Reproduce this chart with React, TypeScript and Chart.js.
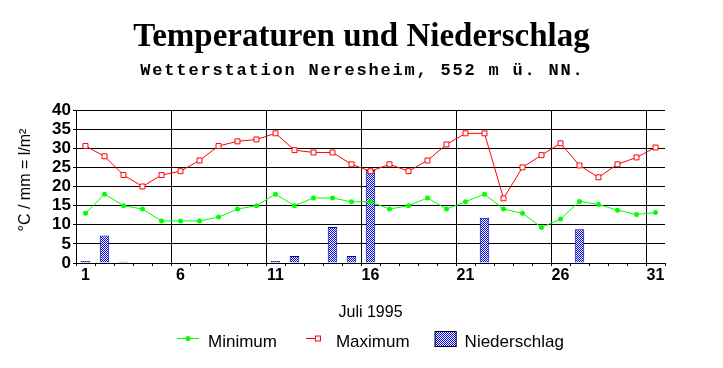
import React, { useEffect, useRef } from "react";
import { Chart, registerables } from "chart.js";

Chart.register(...registerables);

const days = Array.from({ length: 31 }, (_, i) => String(i + 1));
const minimum = [13, 18, 15, 14.1, 11, 11, 11, 12, 14.1, 15, 18, 15, 17, 17, 16, 16, 14.1, 15, 17, 14.1, 16, 18, 14.1, 13, 9.3, 11.5, 16.1, 15.3, 13.8, 12.7, 13.2];
const maximum = [30.6, 27.9, 23, 20, 23, 24, 26.8, 30.6, 31.8, 32.3, 33.9, 29.5, 28.9, 28.9, 25.8, 24, 25.8, 24, 26.8, 31, 33.9, 33.9, 16.9, 25, 28.2, 31.3, 25.5, 22.4, 25.8, 27.6, 30.2];
const niederschlag = [0.5, 7.2, 0.3, 0, 0, 0, 0, 0, 0, 0, 0.5, 1.8, 0, 9.4, 1.8, 24.3, 0, 0, 0, 0, 0, 11.8, 0, 0, 0, 0, 8.8, 0, 0, 0, 0];
const yTicks = [0, 5, 10, 15, 20, 25, 30, 35, 40];

const TITLE = "Temperaturen und Niederschlag";
const SUBTITLE = "Wetterstation Neresheim, 552 m ü. NN.";
const Y_TITLE = "°C / mm = l/m²";
const X_TITLE = "Juli 1995";
const LEGEND = ["Minimum", "Maximum", "Niederschlag"];

const GREEN = "#00ff00";
const RED = "#ff0000";
const SANS = "'Liberation Sans', Arial, sans-serif";

function makePattern(): CanvasPattern | string {
  const c = document.createElement("canvas");
  c.width = 2;
  c.height = 2;
  const g = c.getContext("2d");
  if (!g) return "#8080ff";
  g.fillStyle = "#ffffff";
  g.fillRect(0, 0, 2, 2);
  g.fillStyle = "#0000ff";
  g.fillRect(0, 0, 1, 1);
  g.fillRect(1, 1, 1, 1);
  const p = g.createPattern(c, "repeat");
  return p || "#8080ff";
}

export default function App() {
  const ref = useRef<HTMLCanvasElement | null>(null);

  useEffect(() => {
    const canvas = ref.current;
    if (!canvas) return;
    const pattern = makePattern();

    const textPlugin = {
      id: "texts",
      afterDraw(chart: any) {
        const ctx = chart.ctx as CanvasRenderingContext2D;
        const area = chart.chartArea;
        const cx = chart.width / 2;
        const pc = (area.left + area.right) / 2;
        ctx.save();
        ctx.fillStyle = "#000";
        // title
        ctx.font = "bold 33px 'Liberation Serif', 'Times New Roman', serif";
        ctx.textAlign = "center";
        ctx.textBaseline = "alphabetic";
        ctx.fillText(TITLE, cx, 46);
        // subtitle
        ctx.font = "bold 17px 'Liberation Mono', 'Courier New', monospace";
        (ctx as any).letterSpacing = "1.8px";
        ctx.textAlign = "left";
        const sw = ctx.measureText(SUBTITLE).width - 1.8;
        ctx.fillText(SUBTITLE, cx - sw / 2, 75);
        (ctx as any).letterSpacing = "0px";
        // x title
        ctx.font = `16px ${SANS}`;
        ctx.textAlign = "center";
        ctx.fillText(X_TITLE, pc, 317);
        // y title
        ctx.save();
        ctx.translate(25.5, 180);
        ctx.rotate(-Math.PI / 2);
        ctx.textBaseline = "middle";
        ctx.fillText(Y_TITLE, 0, 0);
        ctx.restore();
        // legend
        ctx.font = `17px ${SANS}`;
        ctx.textAlign = "left";
        const w = LEGEND.map((t) => ctx.measureText(t).width);
        const total = 22 + 9 + w[0] + 29 + 16 + 14 + w[1] + 25 + 22 + 8 + w[2];
        let x = Math.round(pc - total / 2);
        const ly = 338.5;
        const base = 346.5;
        // minimum icon
        ctx.strokeStyle = GREEN;
        ctx.lineWidth = 1;
        ctx.beginPath();
        ctx.moveTo(x, ly);
        ctx.lineTo(x + 22, ly);
        ctx.stroke();
        ctx.fillStyle = GREEN;
        ctx.beginPath();
        ctx.arc(x + 11, ly, 2.5, 0, Math.PI * 2);
        ctx.fill();
        x += 22 + 9;
        ctx.fillStyle = "#000";
        ctx.fillText(LEGEND[0], x, base);
        x += w[0] + 29;
        // maximum icon
        ctx.strokeStyle = RED;
        ctx.beginPath();
        ctx.moveTo(x, ly);
        ctx.lineTo(x + 12, ly);
        ctx.stroke();
        ctx.fillStyle = "#fff";
        ctx.fillRect(x + 9, ly - 3, 6, 6);
        ctx.strokeRect(x + 9.5, ly - 3 + 0.5, 5, 5);
        x += 16 + 14;
        ctx.fillStyle = "#000";
        ctx.fillText(LEGEND[1], x, base);
        x += w[1] + 25;
        // niederschlag icon
        ctx.fillStyle = pattern as any;
        ctx.fillRect(x, 331, 22, 16);
        ctx.strokeStyle = "#000";
        ctx.strokeRect(x + 0.5, 331.5, 21, 15);
        x += 22 + 8;
        ctx.fillStyle = "#000";
        ctx.fillText(LEGEND[2], x, base);
        ctx.restore();
      },
    };

    const chart = new Chart(canvas, {
      type: "bar",
      data: {
        labels: days,
        datasets: [
          {
            type: "line",
            label: LEGEND[0],
            data: minimum,
            borderColor: GREEN,
            backgroundColor: GREEN,
            borderWidth: 1,
            pointStyle: "circle",
            pointRadius: 2.5,
            pointBorderWidth: 0,
            pointBackgroundColor: GREEN,
            tension: 0,
            order: 1,
          } as any,
          {
            type: "line",
            label: LEGEND[1],
            data: maximum,
            borderColor: RED,
            backgroundColor: "#fff",
            borderWidth: 1,
            pointStyle: "rect",
            pointRadius: 3.5,
            pointBorderWidth: 1,
            pointBorderColor: RED,
            pointBackgroundColor: "#fff",
            tension: 0,
            order: 0,
          } as any,
          {
            type: "bar",
            label: LEGEND[2],
            data: niederschlag,
            backgroundColor: pattern as any,
            borderColor: "#000080",
            borderWidth: 1,
            borderSkipped: "bottom",
            categoryPercentage: 1,
            barPercentage: 0.5,
            order: 2,
          } as any,
        ],
      },
      options: {
        responsive: false,
        animation: false,
        events: [],
        layout: { padding: { left: 0, top: 110, right: 58, bottom: 0 } },
        plugins: {
          legend: { display: false },
          title: { display: false },
          tooltip: { enabled: false },
        },
        scales: {
          x: {
            offset: true,
            afterFit: (s: any) => {
              s.height = 105;
            },
            grid: {
              offset: true,
              color: (c: any) => (c.index % 5 === 0 && c.index > 0 && c.index < days.length ? "#000" : "rgba(0,0,0,0)"),
              tickColor: "#000",
              tickLength: 3,
              lineWidth: 1,
            },
            border: { display: true, color: "#000", width: 1 },
            ticks: {
              autoSkip: false,
              maxRotation: 0,
              padding: 0,
              color: "#000",
              font: { family: SANS, size: 16, weight: "bold" },
              callback: (_v: any, i: number) => (i % 5 === 0 ? days[i] : ""),
            },
          },
          y: {
            min: yTicks[0],
            max: yTicks[yTicks.length - 1],
            afterFit: (s: any) => {
              s.width = 76;
            },
            afterBuildTicks: (s: any) => {
              s.ticks = yTicks.map((v) => ({ value: v }));
            },
            grid: { color: "#000", tickColor: "#000", tickLength: 3, lineWidth: 1 },
            border: { display: true, color: "#000", width: 1 },
            ticks: {
              autoSkip: false,
              stepSize: 5,
              padding: 2,
              color: "#000",
              font: { family: SANS, size: 17, weight: "bold", lineHeight: 1 },
            },
          },
        },
      },
      plugins: [textPlugin],
    } as any);

    return () => chart.destroy();
  }, []);

  return (
    <div style={{ position: "fixed", left: 0, top: 0, width: 723, height: 368, background: "#fff" }}>
      <canvas ref={ref} width={723} height={368} style={{ display: "block", width: 723, height: 368 }} />
    </div>
  );
}
